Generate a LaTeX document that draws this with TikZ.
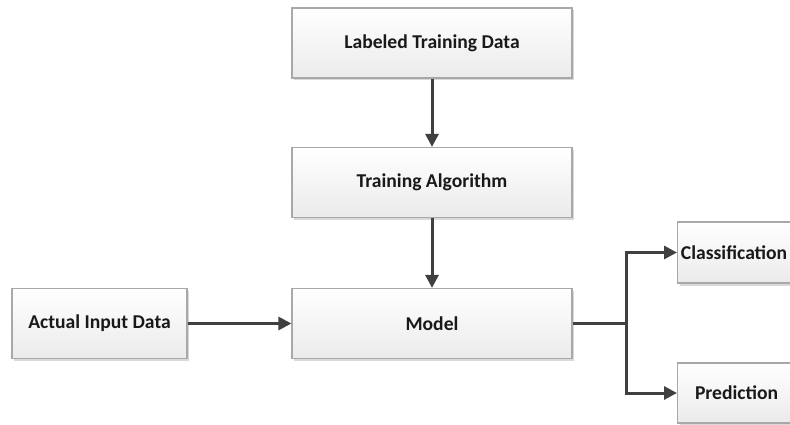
\documentclass[tikz,border=0pt]{standalone}
\usepackage{fontspec}
\setmainfont{Carlito}
\usetikzlibrary{arrows.meta,shadows}
\definecolor{linegray}{HTML}{404040}
\definecolor{boxedge}{HTML}{A8A8A8}
\tikzset{
	blockbox/.style={draw=boxedge, line width=1.2pt, top color=white, bottom color=black!8,
		minimum height=70pt, align=center, text=black!90, inner sep=0pt,
		font=\fontsize{19.6}{22}\selectfont\bfseries,
		drop shadow={shadow xshift=2pt, shadow yshift=-2.5pt, opacity=0.25, fill=black!60}},
	flow/.style={draw=linegray, line width=3pt, -{Triangle[length=13pt,width=13pt]}}
}
\begin{document}
\begin{tikzpicture}[x=1pt,y=-1pt]
	\clip (0,0) rectangle (790,425);
		\node[blockbox, minimum width=280pt] (labeled) at (432,43) {Labeled Training Data};
		\node[blockbox, minimum width=280pt] (algo) at (432,182.5) {Training Algorithm};
		\node[blockbox, minimum width=280pt] (model) at (432,323.5) {Model};
		\node[blockbox, minimum width=175pt] (actual) at (99.5,323.5) {Actual Input Data};
		\node[blockbox, minimum width=113pt, minimum height=61pt, anchor=west] (classif) at (677,252.5) {Classification};
		\node[blockbox, minimum width=118pt, minimum height=60pt, anchor=west] (predict) at (677,393) {Prediction};

		\coordinate (Split) at (626,323.5);
		\draw[flow] (labeled) -- (algo);
		\draw[flow] (algo) -- (model);
		\draw[flow] (actual) -- (model);
		\draw[draw=linegray, line width=3pt] (model.east) -- (Split);
		\draw[flow] (Split) |- (classif.west);
		\draw[flow] (Split) |- (predict.west);
\end{tikzpicture}
\end{document}
